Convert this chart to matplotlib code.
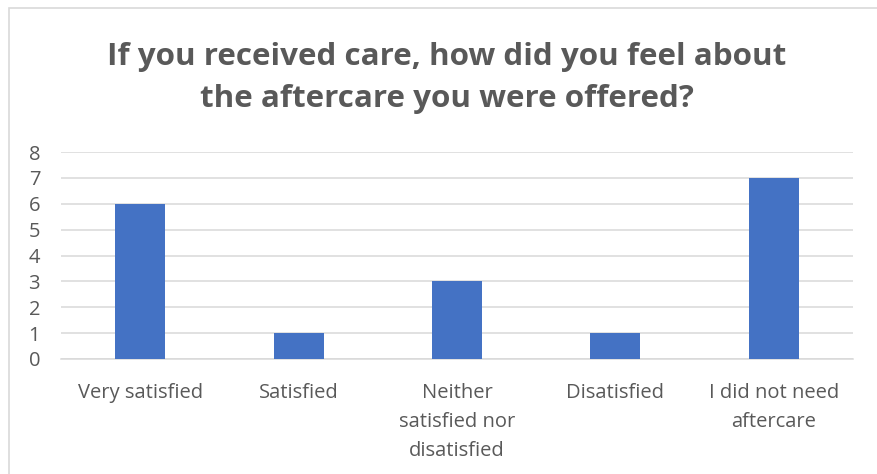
import matplotlib.pyplot as plt
from matplotlib.patches import Rectangle

categories = ["Very satisfied", "Satisfied", "Neither\nsatisfied nor\ndisatisfied",
              "Disatisfied", "I did not need\naftercare"]
counts = [6, 1, 3, 1, 7]
yticks = [0, 1, 2, 3, 4, 5, 6, 7, 8]

titel = "If you received care, how did you feel about\nthe aftercare you were offered?"
sedy = "#595959"
mrizka = "#D9D9D9"
modra = "#4472C4"

plt.rcParams['font.family'] = ['Open Sans', 'DejaVu Sans']

fig = plt.figure(figsize=(8.77, 4.74), dpi=100)
ax = fig.add_axes([61/877, 1 - 359/474, 792/877, 207/474])

x = range(len(categories))
ax.bar(x, counts, width=0.316, color=modra, zorder=3)

ax.set_xlim(-0.5, len(categories) - 0.5)
ax.set_ylim(0, 8)
ax.set_yticks(yticks)
ax.set_xticks(list(x))
ax.set_xticklabels(categories, linespacing=1.62)
ax.tick_params(axis="x", length=0, pad=17, labelsize=14.5, labelcolor=sedy)
ax.tick_params(axis="y", length=0, pad=15, labelsize=14.5, labelcolor=sedy)
for lab in ax.get_yticklabels():
    lab.set_horizontalalignment("right")

ax.grid(axis="y", color=mrizka, linewidth=1.1, zorder=0)
for s in ["top", "right", "left"]:
    ax.spines[s].set_visible(False)
ax.spines["bottom"].set_color(mrizka)
ax.spines["bottom"].set_linewidth(1.1)

fig.text(447/877, 1 - 78/474, titel, ha="center", va="center", fontsize=22.6,
         fontweight="bold", color=sedy, linespacing=1.55)

# okraj grafu
fig.patches.append(Rectangle((9/877, -0.1), 1.0, 1 - 8/474 + 0.1, transform=fig.transFigure,
                             fill=False, edgecolor=mrizka, linewidth=1.2))

fig.savefig("out.png", dpi=100)
